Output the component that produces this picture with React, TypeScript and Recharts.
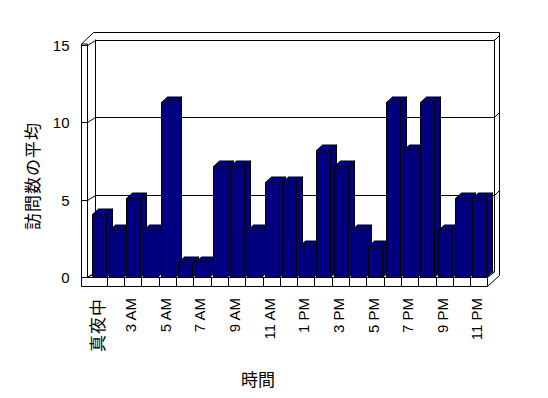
import React from 'react';
import { BarChart, Bar, XAxis, YAxis } from 'recharts';

const hours = ['真夜中', '1 AM', '3 AM', '4 AM', '5 AM', '6 AM', '7 AM', '8 AM', '9 AM', '10 AM', '11 AM', '12 PM', '1 PM', '2 PM', '3 PM', '4 PM', '5 PM', '6 PM', '7 PM', '8 PM', '9 PM', '10 PM', '11 PM'];
const visits = [4, 3, 5, 3, 11, 1, 1, 7, 7, 3, 6, 6, 2, 8, 7, 3, 2, 11, 8, 11, 3, 5, 5];
const yTicks = [0, 5, 10, 15];
const yTitle = '訪問数の平均';
const xTitle = '時間';

const data = hours.map((h, i) => ({ hour: h, visits: visits[i] }));

const W = 548;
const H = 398;
const PL = 89.5;
const PR = 487.5;
const PT = 37.5;
const PB = 277.5;
const DX = 6;
const DY = 5.5;
const LABEL_MAX = (15 * 16) / 15.5;

const LATIN = '"Liberation Sans", Arial, sans-serif';
const CJK = '"Noto Sans CJK JP", "Noto Sans", sans-serif';

const yFront = (v: number) => PB - ((PB - PT) * v) / LABEL_MAX;

const Bar3D = (props: any) => {
  const { x, y, width, height } = props;
  if (height == null || width == null) return null;
  const l = Math.round(x) + 0.5;
  const r = Math.round(x + width) + 0.5;
  const t = Math.round(y) + 0.5;
  const b = Math.round(y + height) - 0.5;
  const fill = '#000080';
  return (
    <g stroke="#000" strokeWidth={1} fill={fill}>
      <polygon points={`${r},${t} ${r + DX},${t - DY} ${r + DX},${b - DY} ${r},${b}`} />
      <polygon points={`${l},${t} ${l + DX},${t - DY} ${r + DX},${t - DY} ${r},${t}`} />
      <rect x={l} y={t} width={r - l} height={b - t} />
    </g>
  );
};

const XTick = (props: any) => {
  const { x, payload } = props;
  const label = String(payload.value);
  const cjk = /[^\x00-\x7F]/.test(label);
  return (
    <text
      transform={`translate(${x - 2},${PB + 20.5}) rotate(-90)`}
      textAnchor="end"
      dominantBaseline="central"
      fontSize={cjk ? 17 : 15}
      fontFamily={cjk ? CJK : LATIN}
      letterSpacing={cjk ? 1 : 0}
      fill="#000"
    >
      {label}
    </text>
  );
};

const YTick = (props: any) => {
  const { y, payload } = props;
  return (
    <text
      x={69.5}
      y={y}
      textAnchor="end"
      dominantBaseline="central"
      fontSize={15}
      fontFamily={LATIN}
      fill="#000"
    >
      {payload.value}
    </text>
  );
};

const Walls = () => {
  const xOut = 81.5;
  const xIn = 87.5;
  const xBack = 95.5;
  const xRIn = 494.5;
  const xROut = 499.5;
  const floorBottom = 286.5;
  const band = (PR - PL) / hours.length;
  const top = yFront(15);
  const dividers = hours.slice(1).map((_, i) => Math.round(PL + band * (i + 1)) + 0.5);
  return (
    <svg width={W} height={H} style={{ position: 'absolute', left: 0, top: 0 }}>
      <g stroke="#000" strokeWidth={1} fill="none">
        <polygon
          points={`${xIn},${PB} ${xBack},${PB - DY} ${xRIn},${PB - DY} ${PR},${PB}`}
          fill="#fff"
        />
        <line x1={xBack} y1={top - DY} x2={xBack} y2={PB - DY} />
        <line x1={xRIn} y1={top - DY} x2={xRIn} y2={PB - DY} />
        <line x1={xOut} y1={top - 1} x2={xOut} y2={floorBottom} />
        <line x1={xIn} y1={top - 1} x2={xIn} y2={PB} />
        <line x1={xOut} y1={top - 1} x2={xIn} y2={top - 1} />
        <line x1={xOut} y1={top - 1} x2={93.5} y2={32.5} />
        <line x1={93.5} y1={32.5} x2={xROut} y2={32.5} />
        <line x1={xROut} y1={32.5} x2={xROut} y2={275.5} />
        <line x1={xROut} y1={275.5} x2={PR} y2={floorBottom} />
        <line x1={PR} y1={PB} x2={PR} y2={floorBottom} />
        <line x1={xOut} y1={floorBottom} x2={PR} y2={floorBottom} />
        <line x1={xOut} y1={PB} x2={PR} y2={PB} />
        {dividers.map((d, i) => (
          <line key={`d${i}`} x1={d} y1={PB} x2={d} y2={floorBottom} />
        ))}
        {yTicks.map((v) => {
          const yf = Math.round(yFront(v) - 0.5) + 0.5;
          const yb = yf - DY + 0.5;
          return (
            <g key={`g${v}`}>
              <line x1={xOut} y1={yf} x2={xIn} y2={yf} />
              <line x1={xIn} y1={yf} x2={xBack} y2={yb} />
              {v > 0 && <line x1={xBack} y1={yb} x2={xRIn} y2={yb} />}
              {v > 0 && <line x1={xRIn} y1={yb} x2={xROut} y2={yb - 5} />}
            </g>
          );
        })}
      </g>
      <text
        transform={`translate(31,176) rotate(-90)`}
        textAnchor="middle"
        dominantBaseline="central"
        fontSize={17}
        fontFamily={CJK}
        letterSpacing={1}
        fill="#000"
      >
        {yTitle}
      </text>
      <text x={258} y={378} textAnchor="middle" dominantBaseline="central" fontSize={17} fontFamily={CJK} fill="#000">
        {xTitle}
      </text>
    </svg>
  );
};

export default function App() {
  return (
    <div style={{ position: 'absolute', left: 0, top: 0, width: W, height: H, background: '#fff' }}>
      <Walls />
      <div style={{ position: 'absolute', left: 0, top: 0 }}>
        <BarChart
          width={W}
          height={H}
          data={data}
          margin={{ top: PT, right: W - PR, bottom: 20.5, left: PL - 60 }}
        >
          <XAxis
            dataKey="hour"
            interval={1}
            tick={<XTick />}
            tickLine={false}
            axisLine={false}
            height={H - PB - 20.5}
          />
          <YAxis yAxisId="bars" hide domain={[0, 15]} type="number" allowDataOverflow />
          <YAxis
            yAxisId="labels"
            width={60}
            type="number"
            domain={[0, LABEL_MAX]}
            ticks={yTicks}
            allowDataOverflow
            axisLine={false}
            tickLine={false}
            tick={<YTick />}
          />
          <Bar
            yAxisId="bars"
            dataKey="visits"
            barSize={14}
            shape={<Bar3D />}
            isAnimationActive={false}
          />
        </BarChart>
      </div>
    </div>
  );
}
